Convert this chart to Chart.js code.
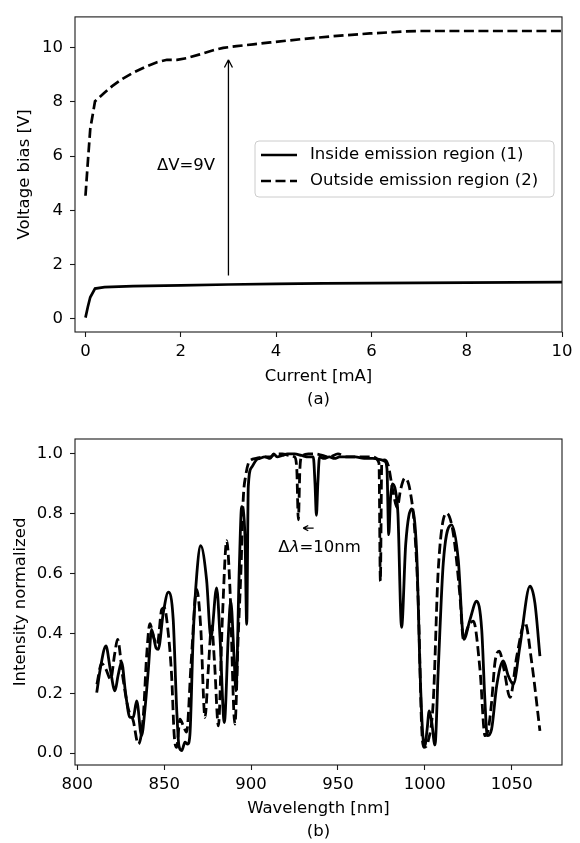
<!DOCTYPE html>
<html>
<head>
<meta charset="utf-8">
<script src="https://cdn.jsdelivr.net/npm/chart.js@4"></script>
<style>
  body { margin: 0; background: #fff; }
  canvas { display: block; }
</style>
</head>
<body>
<canvas id="chart-a" width="580" height="420"></canvas>
<canvas id="chart-b" width="580" height="423"></canvas>
<script>
// (a) voltage bias vs current
var currentIn  = [0, 0.05, 0.1, 0.2, 0.4, 1, 2, 3, 4, 5, 6, 7, 8, 9, 10];
var voltageIn  = [0.05, 0.45, 0.8, 1.12, 1.17, 1.21, 1.24, 1.27, 1.29, 1.31, 1.32, 1.33, 1.34, 1.35, 1.36];
var currentOut = [0, 0.05, 0.1, 0.2, 0.38, 0.56, 0.77, 1.01, 1.26, 1.5, 1.71, 1.92, 2.12, 2.4,
                  2.68, 2.89, 3.17, 3.52, 3.88, 4.58, 5.28, 5.97, 6.67, 7, 8, 9, 10];
var voltageOut = [4.54, 5.8, 7.0, 8.02, 8.31, 8.58, 8.84, 9.08, 9.29, 9.46, 9.55, 9.55, 9.61, 9.75,
                  9.9, 9.99, 10.05, 10.12, 10.19, 10.32, 10.43, 10.52, 10.59, 10.61, 10.61, 10.61, 10.61];
var currentTicks = [0, 2, 4, 6, 8, 10];
var voltageTicks = [0, 2, 4, 6, 8, 10];

// (b) normalized spectra
var wavelengthIn = [
  811.2, 813.5, 816.5, 819.0, 821.7, 823.5, 825.5, 827.8, 830.3, 832.2,
  834.2, 837.0, 839.0, 840.9, 842.8, 845.3, 846.6, 849.5, 852.4, 855.2,
  857.2, 858.5, 860.1, 862.0, 863.5, 864.8, 866.7, 868.8, 871.0, 874.4,
  876.9, 880.2, 882.1, 884.6, 886.9, 888.3, 890.2, 891.3, 893.2, 894.6,
  896.5, 897.5, 898.4, 900.3, 903, 905, 908, 911, 913, 915,
  918, 921, 925, 929, 933, 935.8, 936.8, 937.6, 938.4, 939.4,
  942, 945, 948, 951, 955, 960, 965, 970, 975, 977,
  978.2, 979.2, 980.2, 981.3, 983, 984.5, 986.6, 989, 992.4, 995.3,
  997.2, 998.7, 1000, 1001.3, 1002.5, 1003.9, 1005.8, 1007.7, 1010.6, 1015.4,
  1019.2, 1022.4, 1026, 1029.8, 1032.7, 1034.6, 1035.9, 1038.4, 1041.3, 1045.1,
  1048, 1050.9, 1054.7, 1060.5, 1063.3, 1066.2];
var intensityIn = [
  0.202, 0.29, 0.358, 0.28, 0.208, 0.26, 0.304, 0.2, 0.119, 0.119,
  0.174, 0.058, 0.15, 0.28, 0.413, 0.352, 0.347, 0.469, 0.538, 0.447,
  0.147, 0.024, 0.008, 0.036, 0.03, 0.06, 0.391, 0.6, 0.693, 0.58,
  0.386, 0.552, 0.391, 0.102, 0.391, 0.508, 0.324, 0.208, 0.613, 0.824,
  0.724, 0.43, 0.891, 0.955, 0.98, 0.985, 0.99, 0.985, 1.0, 0.99,
  0.995, 1.0, 1.0, 0.995, 0.99, 0.99, 0.9, 0.795, 0.9, 0.99,
  0.985, 0.99, 0.985, 0.99, 0.99, 0.99, 0.985, 0.985, 0.98, 0.975,
  0.95, 0.73, 0.85, 0.9, 0.88, 0.8, 0.42, 0.7, 0.816, 0.669,
  0.28, 0.069, 0.024, 0.08, 0.141, 0.105, 0.027, 0.28, 0.636, 0.763,
  0.647, 0.38, 0.447, 0.508, 0.413, 0.169, 0.058, 0.08, 0.224, 0.308,
  0.258, 0.23, 0.358, 0.558, 0.502, 0.324];
var wavelengthOut = [
  811.3, 814.0, 816.5, 819.2, 821.5, 823.2, 826.1, 829.4, 832.2, 835.1,
  838.0, 839.9, 841.8, 843.7, 846.0, 848.6, 850.1, 852.0, 854.3, 855.8,
  857.2, 859.1, 861.0, 862.9, 865.5, 868.7, 871.0, 873.5, 875.4, 877.3,
  879.0, 881.2, 883.5, 886.0, 887.8, 890.7, 892.6, 894.2, 895.5, 897.0,
  898.5, 900, 903, 907, 911, 914, 918, 922, 925, 926.3,
  927.2, 928.1, 929, 933, 937, 941, 945, 950, 955, 960,
  965, 970, 973.6, 974.4, 975.2, 977, 979, 981.5, 984.1, 986,
  988.5, 991.4, 994.2, 996.2, 998.2, 999.5, 1001.9, 1004.8, 1007.7, 1012.5,
  1016.3, 1020.2, 1022.2, 1024.7, 1027.9, 1031.7, 1034.6, 1036.5, 1038.4, 1040.3,
  1042.8, 1045.5, 1049, 1052.9, 1057.6, 1061.5, 1066.2];
var intensityOut = [
  0.23, 0.30, 0.28, 0.247, 0.33, 0.38, 0.258, 0.147, 0.108, 0.03,
  0.124, 0.324, 0.433, 0.391, 0.363, 0.48, 0.486, 0.42, 0.258, 0.058,
  0.019, 0.113, 0.091, 0.07, 0.30, 0.547, 0.424, 0.119, 0.28, 0.424,
  0.30, 0.091, 0.45, 0.71, 0.558, 0.097, 0.39, 0.613, 0.85, 0.93,
  0.97, 0.98, 0.985, 0.99, 0.99, 1.0, 1.0, 0.995, 0.99, 0.95,
  0.78, 0.95, 0.99, 1.0, 1.0, 0.995, 0.99, 1.0, 0.99, 0.99,
  0.99, 0.99, 0.97, 0.575, 0.97, 0.98, 0.96, 0.88, 0.82, 0.88,
  0.919, 0.88, 0.74, 0.502, 0.08, 0.019, 0.04, 0.169, 0.613, 0.802,
  0.736, 0.524, 0.38, 0.42, 0.441, 0.28, 0.058, 0.08, 0.17, 0.302,
  0.341, 0.28, 0.186, 0.324, 0.436, 0.302, 0.074];
var wavelengthTicks = [800, 850, 900, 950, 1000, 1050];
var intensityTicks = [0, 0.2, 0.4, 0.6, 0.8, 1.0];

var INK = '#000';
var FRAME = '#1a1a1a';
Chart.defaults.font.family = '"DejaVu Sans", sans-serif';
Chart.defaults.font.size = 16.5;
Chart.defaults.color = INK;

function zip(xs, ys) {
  return xs.map(function(x, i) { return {x: x, y: ys[i]}; });
}

// matplotlib-like axis: outward ticks, no grid, fixed thickness so the plot box lands where the figure has it
function makeAxis(isX, min, max, ticks, fmt, title, size, titlePad) {
  return {
    type: 'linear', min: min, max: max,
    afterBuildTicks: function(s) { s.ticks = ticks.map(function(v) { return {value: v}; }); },
    afterFit: function(s) { if (isX) s.height = size; else s.width = size; },
    grid: {drawOnChartArea: false, drawTicks: true, tickLength: 5, tickColor: FRAME, tickWidth: 1.1},
    border: {display: false},
    ticks: {padding: isX ? 5 : 7, maxRotation: 0, autoSkip: false, color: INK,
            callback: function(v) { return fmt(v); }},
    title: {display: true, text: title, color: INK,
            font: {size: 16.5, lineHeight: isX ? 23 / 16.5 : 1.2},
            padding: isX ? {top: 0, bottom: titlePad} : {top: titlePad, bottom: 0}}
  };
}

var framePlugin = {
  id: 'frame',
  afterDatasetsDraw: function(chart) {
    var a = chart.chartArea, ctx = chart.ctx;
    ctx.save();
    ctx.strokeStyle = FRAME; ctx.lineWidth = 1.1;
    ctx.strokeRect(a.left, a.top, a.right - a.left, a.bottom - a.top);
    ctx.restore();
  }
};

// arrows and text placed in data coordinates
var notePlugin = {
  id: 'notes',
  afterDatasetsDraw: function(chart, args, opts) {
    var ctx = chart.ctx, sx = chart.scales.x, sy = chart.scales.y;
    ctx.save();
    (opts.arrows || []).forEach(function(a) {
      var x0 = sx.getPixelForValue(a.from[0]), y0 = sy.getPixelForValue(a.from[1]);
      var x1 = sx.getPixelForValue(a.to[0]), y1 = sy.getPixelForValue(a.to[1]);
      var ang = Math.atan2(y1 - y0, x1 - x0);
      ctx.strokeStyle = INK; ctx.lineWidth = 1.3;
      ctx.beginPath();
      ctx.moveTo(x0, y0); ctx.lineTo(x1, y1);
      [-1, 1].forEach(function(s) {
        ctx.moveTo(x1, y1);
        ctx.lineTo(x1 - a.head * Math.cos(ang + s * 0.48), y1 - a.head * Math.sin(ang + s * 0.48));
      });
      ctx.stroke();
    });
    (opts.labels || []).forEach(function(l) {
      var x = sx.getPixelForValue(l.at[0]), y = sy.getPixelForValue(l.at[1]);
      ctx.fillStyle = INK; ctx.textBaseline = 'middle'; ctx.textAlign = 'left';
      var widths = l.parts.map(function(p) {
        ctx.font = (p.italic ? 'italic ' : '') + '16.5px "DejaVu Sans"';
        return ctx.measureText(p.t).width;
      });
      var total = widths.reduce(function(s, w) { return s + w; }, 0);
      var cx = l.align === 'center' ? x - total / 2 : x;
      l.parts.forEach(function(p, i) {
        ctx.font = (p.italic ? 'italic ' : '') + '16.5px "DejaVu Sans"';
        ctx.fillText(p.t, cx, y);
        cx += widths[i];
      });
    });
    ctx.restore();
  }
};

// legend box drawn inside the plot, like the figure's
var legendBox = {
  id: 'legendBox',
  afterDatasetsDraw: function(chart, args, opts) {
    if (!opts.show) return;
    var ctx = chart.ctx, b = opts.box, r = 4;
    ctx.save();
    ctx.beginPath();
    ctx.moveTo(b[0] + r, b[1]);
    ctx.arcTo(b[2], b[1], b[2], b[3], r);
    ctx.arcTo(b[2], b[3], b[0], b[3], r);
    ctx.arcTo(b[0], b[3], b[0], b[1], r);
    ctx.arcTo(b[0], b[1], b[2], b[1], r);
    ctx.closePath();
    ctx.fillStyle = 'rgba(255,255,255,0.8)'; ctx.fill();
    ctx.strokeStyle = '#cccccc'; ctx.lineWidth = 1; ctx.stroke();
    chart.data.datasets.forEach(function(ds, i) {
      var y = b[1] + 14 + i * 26;
      ctx.strokeStyle = ds.borderColor; ctx.lineWidth = ds.borderWidth;
      ctx.setLineDash(ds.borderDash || []);
      ctx.beginPath(); ctx.moveTo(b[0] + 6, y); ctx.lineTo(b[0] + 42, y); ctx.stroke();
      ctx.setLineDash([]);
      ctx.fillStyle = INK; ctx.font = '16.5px "DejaVu Sans"';
      ctx.textBaseline = 'middle'; ctx.textAlign = 'left';
      ctx.fillText(ds.label, b[0] + 55, y);
    });
    ctx.restore();
  }
};

function line(label, pts, dashed, width, smooth) {
  return {
    label: label, data: pts, borderColor: INK, borderWidth: width,
    borderDash: dashed ? [10, 4.5] : [], borderCapStyle: 'butt',
    pointRadius: 0, fill: false,
    tension: 0, cubicInterpolationMode: smooth ? 'monotone' : 'default'
  };
}

var intFmt = function(v) { return String(v); };
var oneDec = function(v) { return v.toFixed(1); };

new Chart(document.getElementById('chart-a'), {
  type: 'line',
  data: {datasets: [
    line('Inside emission region (1)', zip(currentIn, voltageIn), false, 2.7, false),
    line('Outside emission region (2)', zip(currentOut, voltageOut), true, 2.7, false)
  ]},
  options: {
    responsive: false, animation: false, parsing: false,
    layout: {padding: {left: 0, top: 5, right: 18, bottom: 0}},
    scales: {
      x: makeAxis(true, -0.22, 10, currentTicks, intFmt, ['Current [mA]', '(a)'], 88, 8.5),
      y: makeAxis(false, -0.48, 11.13, voltageTicks, intFmt, 'Voltage bias [V]', 75, 15)
    },
    plugins: {
      legend: {display: false}, tooltip: {enabled: false},
      legendBox: {show: true, box: [255, 141, 554, 197]},
      notes: {
        arrows: [{from: [3, 1.6], to: [3, 9.55], head: 8.7}],
        labels: [{at: [1.5, 5.66], align: 'left', parts: [{t: 'ΔV=9V'}]}]
      }
    }
  },
  plugins: [framePlugin, notePlugin, legendBox]
});

new Chart(document.getElementById('chart-b'), {
  type: 'line',
  data: {datasets: [
    line('Inside emission region (1)', zip(wavelengthIn, intensityIn), false, 2.8, true),
    line('Outside emission region (2)', zip(wavelengthOut, intensityOut), true, 2.8, true)
  ]},
  options: {
    responsive: false, animation: false, parsing: false,
    layout: {padding: {left: 0, top: 19, right: 18, bottom: 0}},
    scales: {
      x: makeAxis(true, 798.7, 1078.9, wavelengthTicks, intFmt, ['Wavelength [nm]', '(b)'], 78, 0),
      y: makeAxis(false, -0.04, 1.05, intensityTicks, oneDec, 'Intensity normalized', 75, 11)
    },
    plugins: {
      legend: {display: false}, tooltip: {enabled: false},
      legendBox: {show: false},
      notes: {
        arrows: [{from: [936, 0.752], to: [930, 0.752], head: 5.7}],
        labels: [{at: [939.4, 0.687], align: 'center',
                  parts: [{t: 'Δ'}, {t: 'λ', italic: true}, {t: '=10nm'}]}]
      }
    }
  },
  plugins: [framePlugin, notePlugin]
});
</script>
</body>
</html>
